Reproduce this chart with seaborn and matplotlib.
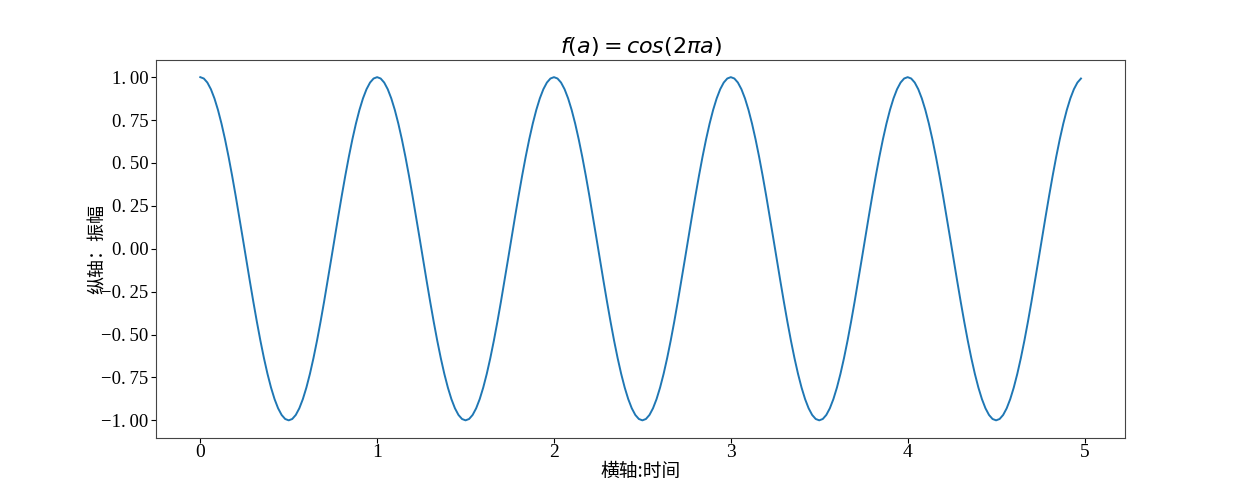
import numpy as np
import pandas as pd
import seaborn as sns
import matplotlib
matplotlib.use("Agg")
import matplotlib.pyplot as plt

# the curve is the function named in the chart title, sampled every 0.02
a = np.arange(0, 5, 0.02)
amplitude = np.cos(2 * np.pi * a)

x_ticks = [0, 1, 2, 3, 4, 5]
y_ticks = [-1.00, -0.75, -0.50, -0.25, 0.00, 0.25, 0.50, 0.75, 1.00]

title = r"$f(a) = cos(2\pi a)$"
x_label = "横轴:时间"
y_label = "纵轴：振幅"

df = pd.DataFrame({"time": a, "amp": amplitude})

fig, ax = plt.subplots(figsize=(12.5, 5), dpi=100)
fig.subplots_adjust(left=0.125, right=0.9, top=0.88, bottom=0.125)

sns.lineplot(data=df, x="time", y="amp", ax=ax, color="#1f77b4", linewidth=1.4)

serif = ["Liberation Serif", "DejaVu Serif"]
cjk = ["Noto Sans CJK SC", "DejaVu Sans"]

ax.set_xticks(x_ticks)
ax.set_yticks(y_ticks)
ax.set_xticklabels([str(t) for t in x_ticks], family=serif, fontsize=14)
ax.set_yticklabels([f"{t:.2f}".replace("-", "\u2212").replace(".", ".\u2009") for t in y_ticks],
                   family=serif, fontsize=13.5)
ax.tick_params(axis="x", pad=1.5)
ax.tick_params(axis="y", pad=2)

ax.set_title(title, fontsize=16, pad=5)
ax.set_xlabel(x_label, family=cjk, fontsize=13.5, labelpad=0)
ax.set_ylabel(y_label, family=cjk, fontsize=13, labelpad=-4)

for s in ax.spines.values():
    s.set_color("#444444")

fig.savefig("out.png", dpi=100)
